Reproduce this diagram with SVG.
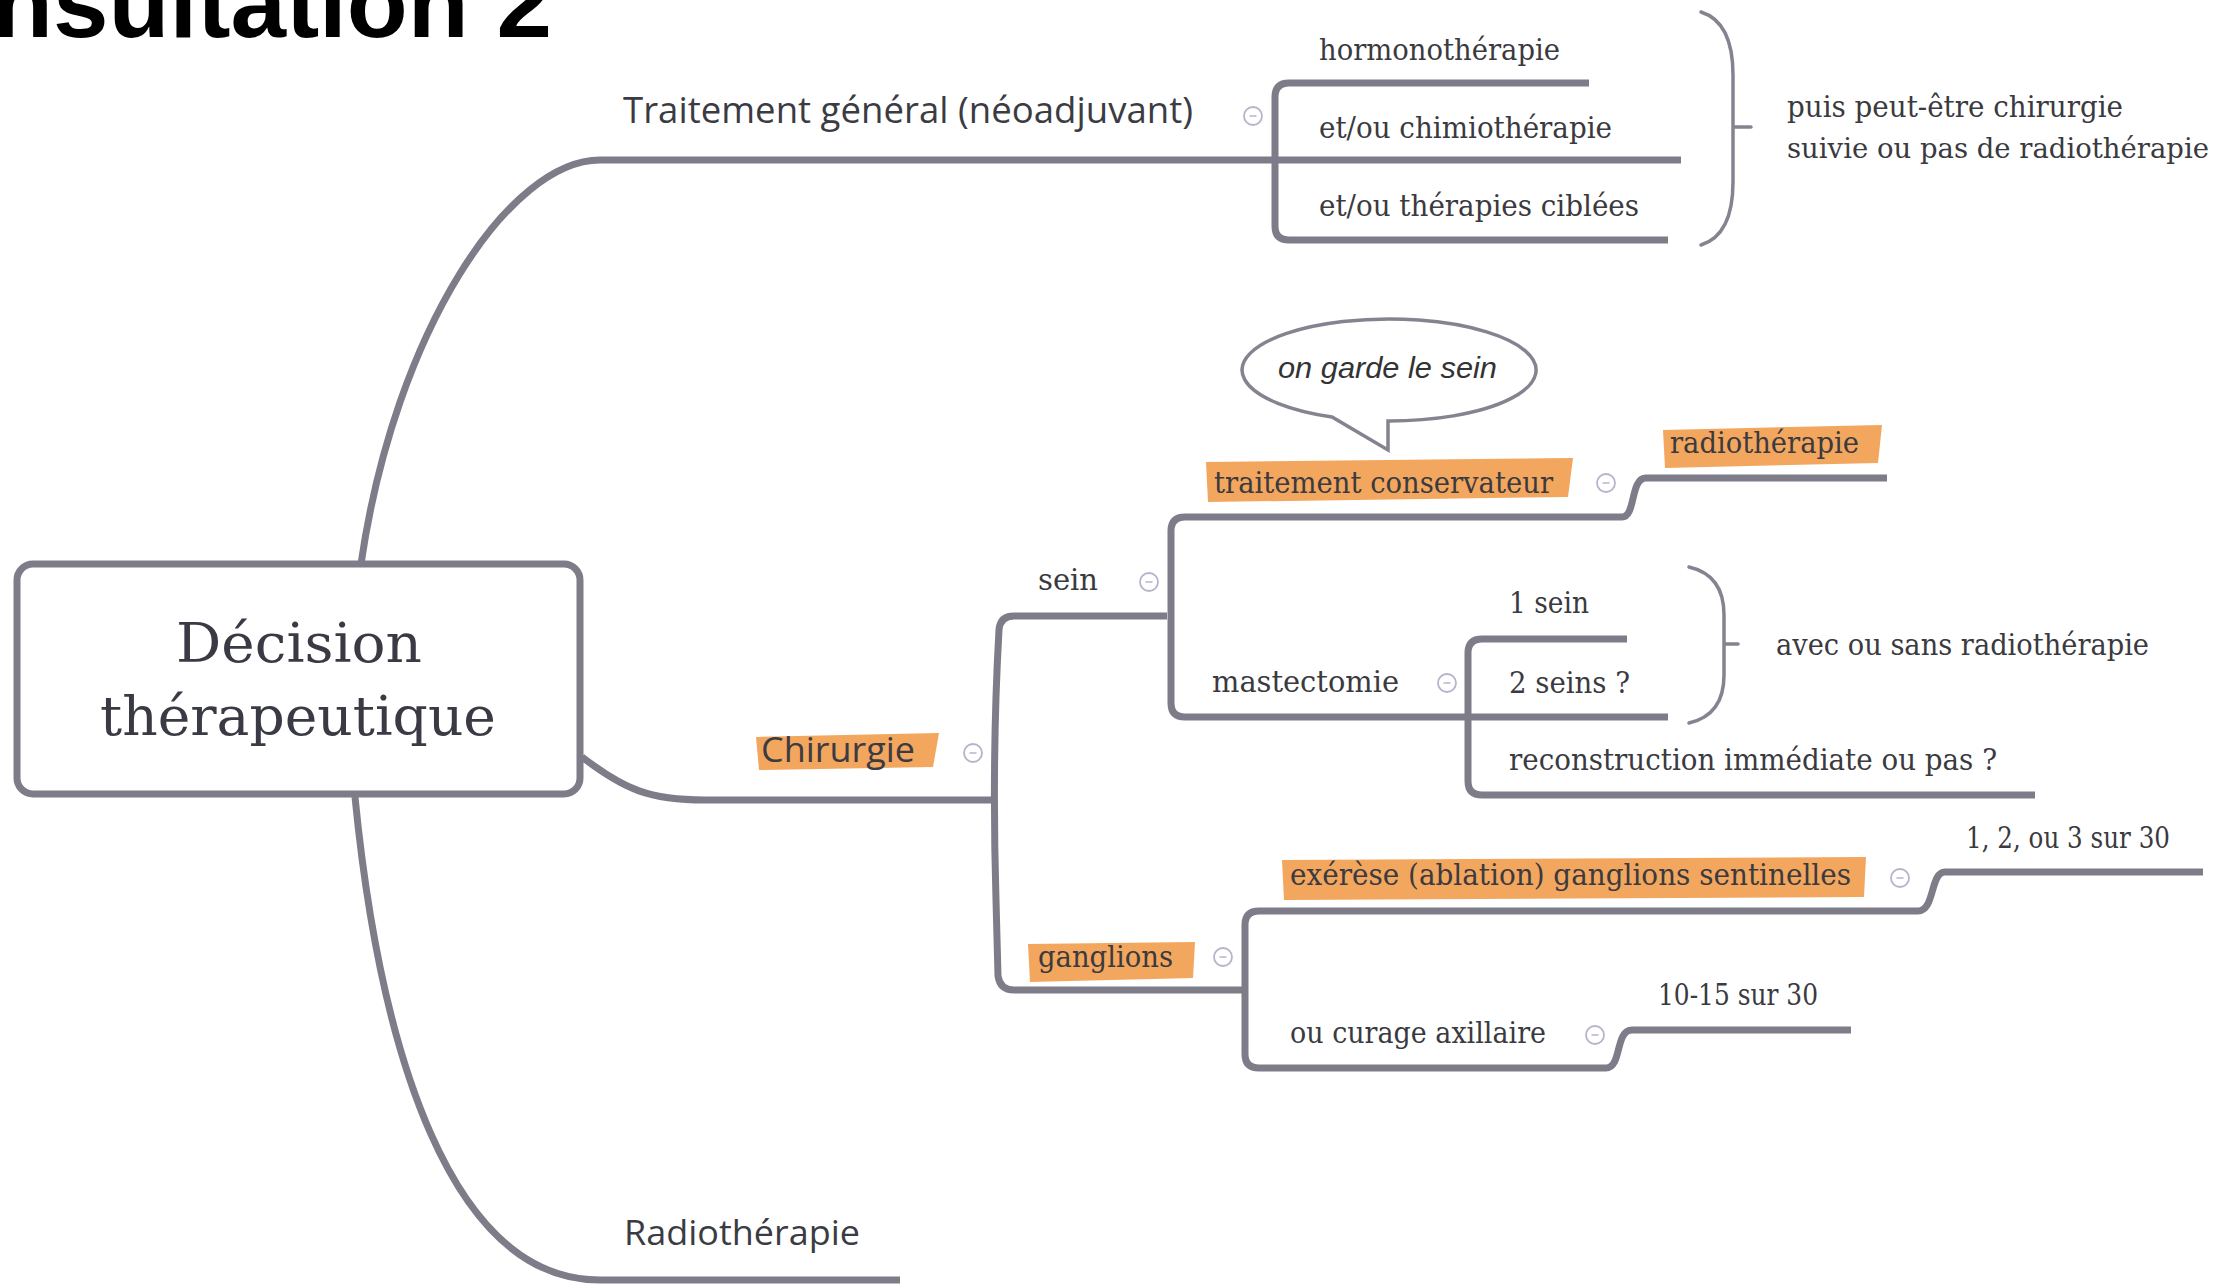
<svg xmlns="http://www.w3.org/2000/svg" width="2234" height="1285" viewBox="0 0 2234 1285">
<style>
.ln{fill:none;stroke:#7e7c88;stroke-width:7;stroke-linejoin:round}
.br{fill:none;stroke:#85838f;stroke-width:3.5;stroke-linecap:round}
.sans{font-family:"Open Sans","Liberation Sans",sans-serif;fill:#3b3b43}
.ser{font-family:"DejaVu Serif","Liberation Serif",serif;font-size:30px;fill:#3a3a40}
.hl{fill:#f3a65d}
.col{fill:#fff;stroke:#b4b4cc;stroke-width:1.8}
.cold{stroke:#b4b4cc;stroke-width:1.5}
</style>
<defs>
<g id="collapse"><circle class="col" cx="0" cy="0" r="9"/><line class="cold" x1="-3.5" y1="0" x2="3.5" y2="0"/></g>
</defs>
<rect width="2234" height="1285" fill="#fff"/>
<text x="-8" y="37" font-family="Liberation Sans, Arial, sans-serif" font-weight="bold" font-size="98" fill="#000" textLength="560" lengthAdjust="spacingAndGlyphs">nsultation 2</text>

<g id="connectors">
<path class="ln" d="M361,564 C395,330 510,160 600,160 L1681,160"/>
<path class="ln" d="M1589,83 L1289,83 Q1275,83 1275,97 L1275,226 Q1275,240 1289,240 L1668,240"/>
<path class="ln" d="M582,757 C625,790 650,800 705,800 L997,800"/>
<path class="ln" d="M1167,616 L1014,616 Q1000,616 999,630 C995,700 993,800 996,900 L998,976 Q1000,990 1014,990 L1245,990"/>
<path class="ln" d="M1887,478 L1646,478 C1630,478 1636,517 1622,517 L1185,517 Q1171,517 1171,531 L1171,703 Q1171,717 1185,717 L1668,717"/>
<path class="ln" d="M1627,639 L1482,639 Q1468,639 1468,653 L1468,781 Q1468,795 1482,795 L2035,795"/>
<path class="ln" d="M2203,872 L1945,872 C1930,872 1935,911 1918,911 L1259,911 Q1245,911 1245,925 L1245,1054 Q1245,1068 1259,1068 L1606,1068 C1622,1068 1615,1030 1632,1030 L1851,1030"/>
<path class="ln" d="M355,797 C380,1050 450,1280 600,1280 L900,1280"/>
<path class="br" d="M1701,12 Q1733,22 1733,75 L1733,182 Q1733,235 1701,245 M1733,127 L1751,127"/>
<path class="br" d="M1689,567 Q1724,575 1724,615 L1724,675 Q1724,715 1689,723 M1724,644 L1738,644"/>
</g>

<g id="root">
<rect x="17" y="564" width="563" height="230" rx="16" fill="#fff" stroke="#7e7c88" stroke-width="7"/>
<text x="176" y="662" font-family="DejaVu Serif, serif" font-size="55" fill="#3a3a44" textLength="246" lengthAdjust="spacingAndGlyphs">Décision</text>
<text x="100" y="735" font-family="DejaVu Serif, serif" font-size="55" fill="#3a3a44" textLength="396" lengthAdjust="spacingAndGlyphs">thérapeutique</text>
</g>

<g id="traitement-general">
<text class="sans" x="623" y="123" font-size="36" textLength="570" lengthAdjust="spacingAndGlyphs">Traitement général (néoadjuvant)</text>
<use href="#collapse" x="1253" y="116"/>
</g>
<g id="hormonotherapie"><text class="ser" x="1319" y="60" textLength="241" lengthAdjust="spacingAndGlyphs">hormonothérapie</text></g>
<g id="chimiotherapie"><text class="ser" x="1319" y="138" textLength="293" lengthAdjust="spacingAndGlyphs">et/ou chimiothérapie</text></g>
<g id="therapies-ciblees"><text class="ser" x="1319" y="216" textLength="320" lengthAdjust="spacingAndGlyphs">et/ou thérapies ciblées</text></g>
<g id="puis-chirurgie">
<text class="ser" x="1787" y="117" textLength="336" lengthAdjust="spacingAndGlyphs">puis peut-être chirurgie</text>
<text class="ser" x="1787" y="158" style="font-size:28px" textLength="422" lengthAdjust="spacingAndGlyphs">suivie ou pas de radiothérapie</text>
</g>

<g id="chirurgie">
<polygon class="hl" points="756,737 939,733 933,767 759,770"/>
<text class="sans" x="761" y="762" font-size="35" textLength="154" lengthAdjust="spacingAndGlyphs">Chirurgie</text>
<use href="#collapse" x="973" y="753"/>
</g>
<g id="sein">
<text class="ser" x="1038" y="590" textLength="60" lengthAdjust="spacingAndGlyphs">sein</text>
<use href="#collapse" x="1149" y="582"/>
</g>
<g id="traitement-conservateur">
<polygon class="hl" points="1206,462 1573,458 1568,497 1208,502"/>
<text class="ser" x="1214" y="493" textLength="339" lengthAdjust="spacingAndGlyphs">traitement conservateur</text>
<use href="#collapse" x="1606" y="483"/>
</g>
<g id="bulle">
<path d="M1388,421 A147,51 0 1 0 1332,417 L1388,450 Z" fill="#fff" stroke="#85838f" stroke-width="3.5" stroke-linejoin="miter"/>
<text x="1278" y="378" font-family="Liberation Sans, Arial, sans-serif" font-style="italic" font-size="30" fill="#333" textLength="219" lengthAdjust="spacingAndGlyphs">on garde le sein</text>
</g>
<g id="radiotherapie-sein">
<polygon class="hl" points="1663,430 1882,425 1878,463 1665,468"/>
<text class="ser" x="1670" y="453" textLength="189" lengthAdjust="spacingAndGlyphs">radiothérapie</text>
</g>
<g id="mastectomie">
<text class="ser" x="1212" y="692" textLength="187" lengthAdjust="spacingAndGlyphs">mastectomie</text>
<use href="#collapse" x="1447" y="683"/>
</g>
<g id="un-sein"><text class="ser" x="1509" y="613" textLength="80" lengthAdjust="spacingAndGlyphs">1 sein</text></g>
<g id="deux-seins"><text class="ser" x="1509" y="693" textLength="121" lengthAdjust="spacingAndGlyphs">2 seins ?</text></g>
<g id="reconstruction"><text class="ser" x="1509" y="770" textLength="488" lengthAdjust="spacingAndGlyphs">reconstruction immédiate ou pas ?</text></g>
<g id="avec-ou-sans"><text class="ser" x="1776" y="655" textLength="373" lengthAdjust="spacingAndGlyphs">avec ou sans radiothérapie</text></g>

<g id="ganglions">
<polygon class="hl" points="1028,944 1195,942 1193,978 1030,982"/>
<text class="ser" x="1038" y="967" textLength="135" lengthAdjust="spacingAndGlyphs">ganglions</text>
<use href="#collapse" x="1223" y="957"/>
</g>
<g id="exerese">
<polygon class="hl" points="1282,860 1866,857 1864,897 1284,900"/>
<text class="ser" x="1290" y="885" textLength="561" lengthAdjust="spacingAndGlyphs">exérèse (ablation) ganglions sentinelles</text>
<use href="#collapse" x="1900" y="878"/>
</g>
<g id="un-deux-trois"><text class="ser" x="1966" y="848" textLength="204" lengthAdjust="spacingAndGlyphs">1, 2, ou 3 sur 30</text></g>
<g id="curage">
<text class="ser" x="1290" y="1043" textLength="256" lengthAdjust="spacingAndGlyphs">ou curage axillaire</text>
<use href="#collapse" x="1595" y="1035"/>
</g>
<g id="dix-quinze"><text class="ser" x="1658" y="1005" textLength="160" lengthAdjust="spacingAndGlyphs">10-15 sur 30</text></g>

<g id="radiotherapie">
<text class="sans" x="624" y="1245" font-size="34" textLength="236" lengthAdjust="spacingAndGlyphs">Radiothérapie</text>
</g>
</svg>
